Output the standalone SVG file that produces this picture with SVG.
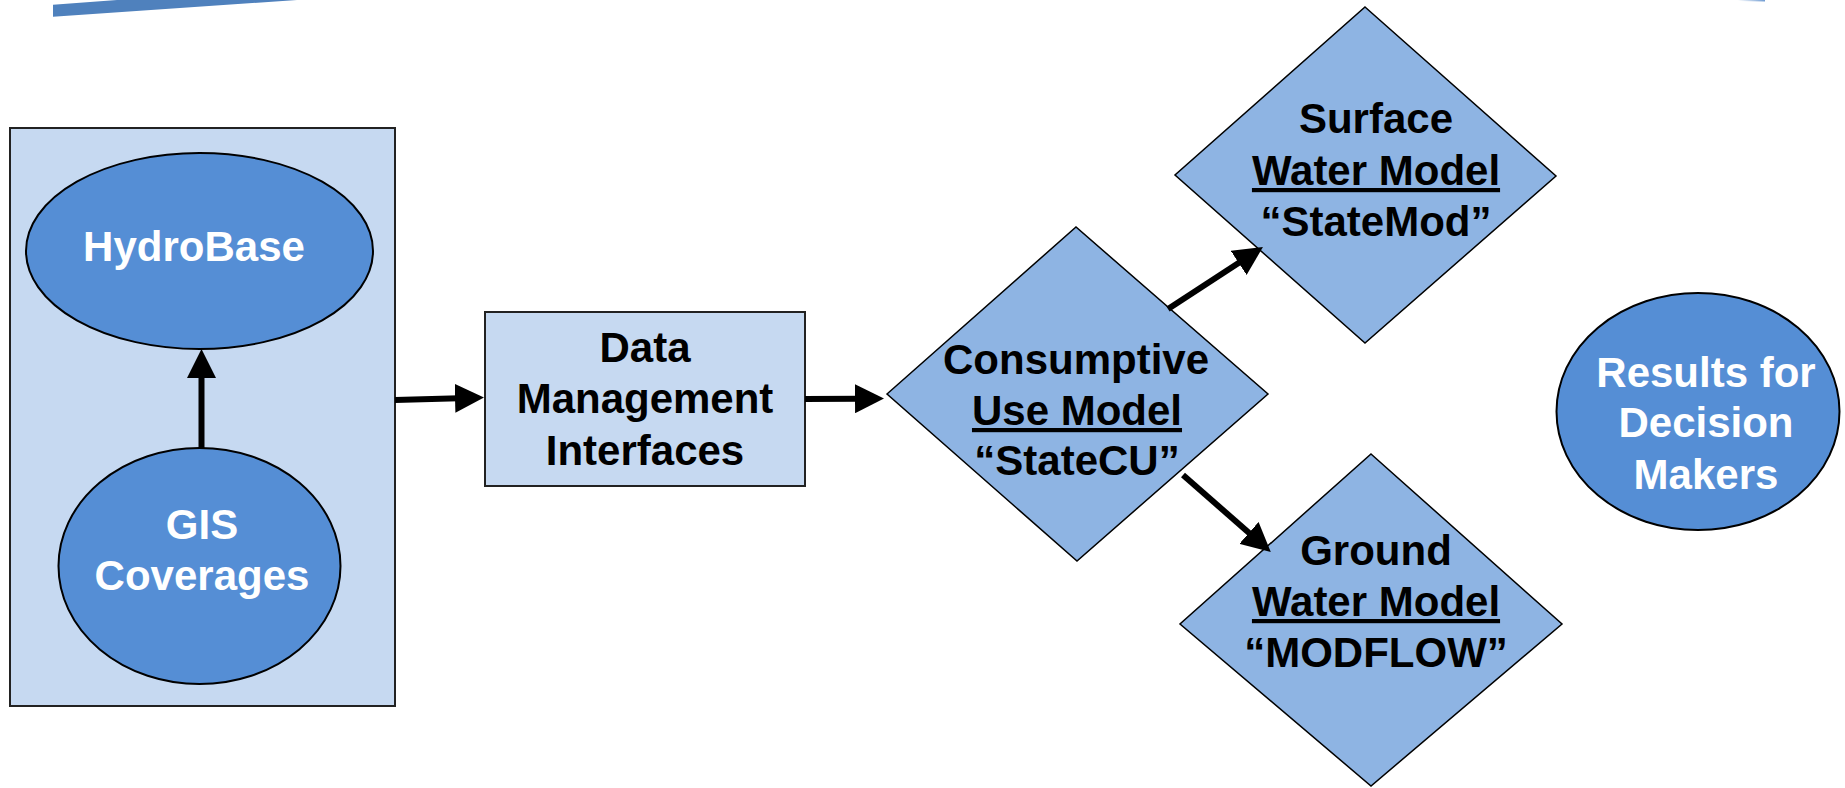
<svg xmlns="http://www.w3.org/2000/svg" width="1845" height="788" viewBox="0 0 1845 788">
<defs>
<style>
.t{font-family:"Liberation Sans",Arial,sans-serif;font-weight:bold;font-size:42px;text-anchor:middle}
.w{fill:#ffffff}
.k{fill:#000000}
.box{fill:#C6D9F1;stroke:#222;stroke-width:2}
.ell{fill:#558ED5;stroke:#000;stroke-width:2}
.dia{fill:#8EB4E3;stroke:#000;stroke-width:1.5}
.con{stroke:#000;stroke-width:6;fill:none;marker-end:url(#ah)}
</style>
<marker id="ah" markerUnits="userSpaceOnUse" viewBox="0 0 29 29" refX="4" refY="14.5" markerWidth="29" markerHeight="29" orient="auto">
<path d="M0,0 L29,14.5 L0,29 z" fill="#000"/>
</marker>
<linearGradient id="sl" x1="0" y1="0" x2="1" y2="0">
<stop offset="0" stop-color="#ffffff"/>
<stop offset="1" stop-color="#6F9BD2"/>
</linearGradient>
</defs>
<polygon points="53,4.7 117,0 297,0 53,16.7" fill="#4F81BD"/>
<polygon points="1738,0 1765,0 1765,1.5 1738,1" fill="url(#sl)"/>
<g id="sources">
<rect class="box" x="10" y="128" width="385" height="578"/>
</g>
<g id="hydrobase">
<ellipse class="ell" cx="199.5" cy="251" rx="173.5" ry="98"/>
<text class="t w" x="194" y="261">HydroBase</text>
</g>
<g id="gis">
<ellipse class="ell" cx="199.5" cy="566" rx="141" ry="118"/>
<text class="t w" x="202" y="539">GIS</text>
<text class="t w" x="202" y="590">Coverages</text>
</g>
<g id="dmi">
<rect class="box" x="485" y="312" width="320" height="174"/>
<text class="t k" x="645" y="362">Data</text>
<text class="t k" x="645" y="413">Management</text>
<text class="t k" x="645" y="465">Interfaces</text>
</g>
<g id="statecu">
<polygon class="dia" points="887,394 1076,227 1268,394 1077,561"/>
<text class="t k" x="1076" y="374">Consumptive</text>
<text class="t k" x="1077" y="425" text-decoration="underline">Use Model</text>
<text class="t k" x="1077" y="475">“StateCU”</text>
</g>
<g id="statemod">
<polygon class="dia" points="1365,7 1556,176 1365,343 1175,175"/>
<text class="t k" x="1376" y="133">Surface</text>
<text class="t k" x="1376" y="185" text-decoration="underline">Water Model</text>
<text class="t k" x="1376" y="236">“StateMod”</text>
</g>
<g id="modflow">
<polygon class="dia" points="1371,454 1562,624 1371,786 1180,624"/>
<text class="t k" x="1376" y="565">Ground</text>
<text class="t k" x="1376" y="616" text-decoration="underline">Water Model</text>
<text class="t k" x="1376" y="667">“MODFLOW”</text>
</g>
<g id="results">
<ellipse class="ell" cx="1698" cy="411.5" rx="141.5" ry="118.5"/>
<text class="t w" x="1706" y="387">Results for</text>
<text class="t w" x="1706" y="437">Decision</text>
<text class="t w" x="1706" y="489">Makers</text>
</g>
<g id="connectors">
<line class="con" x1="201.5" y1="448" x2="201.5" y2="374"/>
<line class="con" x1="395" y1="400" x2="459" y2="398.2"/>
<line class="con" x1="805" y1="399" x2="859" y2="398.7"/>
<line class="con" x1="1168" y1="309" x2="1242" y2="260.7"/>
<line class="con" x1="1183" y1="475" x2="1252" y2="535.5"/>
</g>
</svg>
